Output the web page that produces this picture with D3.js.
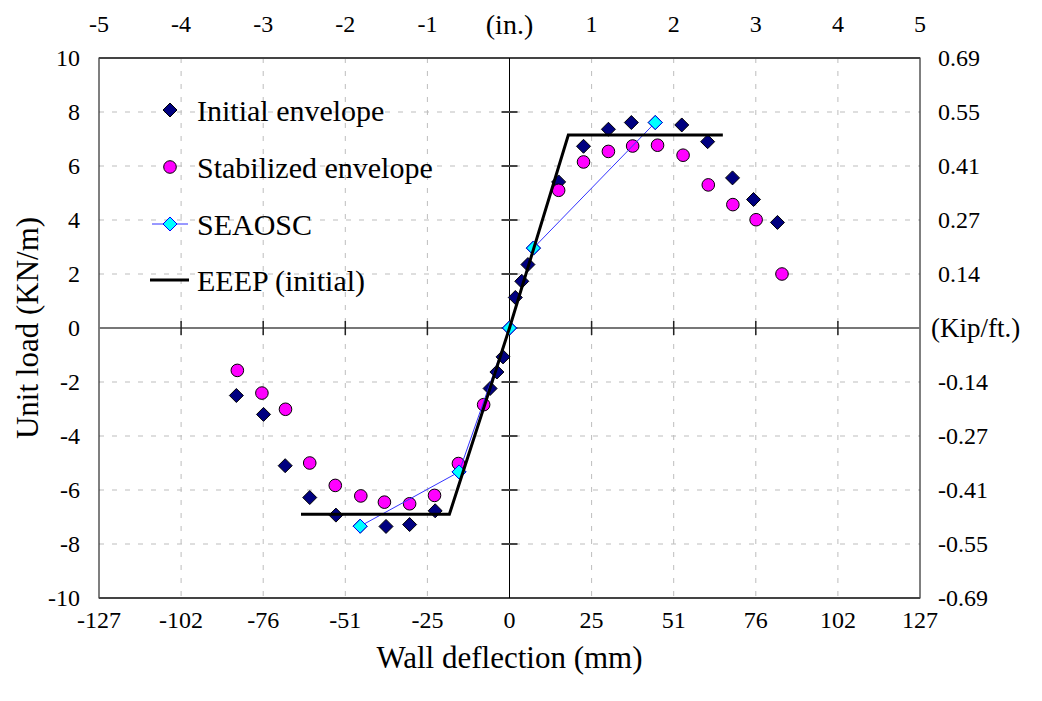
<!DOCTYPE html>
<html>
<head>
<meta charset="utf-8">
<script src="https://cdnjs.cloudflare.com/ajax/libs/d3/7.8.5/d3.min.js"></script>
<style>
  body { margin: 0; background: #fff; }
  text { font-family: "Liberation Serif", "Times New Roman", Times, "DejaVu Serif", serif; }
</style>
</head>
<body>
<svg id="chart" width="1042" height="701"></svg>
<script>
// values (mm, kN/m)
const initialX = [-84.5, -76.1, -69.4, -61.8, -53.7, -46.2, -38.2, -30.9, -23.0, -15.6, -6.0, -3.9, -2.0, 0, 1.8, 3.8, 5.7, 7.4, 15.2, 22.9, 30.6, 37.7, 45.1, 53.3, 61.3, 69.0, 75.5, 82.9];
const initialY = [-2.50, -3.20, -5.10, -6.28, -6.93, -7.34, -7.35, -7.28, -6.77, -5.33, -2.24, -1.63, -1.07, 0, 1.13, 1.73, 2.35, 2.96, 5.41, 6.73, 7.36, 7.61, 7.61, 7.52, 6.90, 5.56, 4.76, 3.91];

const stabX = [-84.2, -76.6, -69.3, -61.8, -53.9, -46.0, -38.7, -30.9, -23.2, -15.8, -8.0, 15.2, 22.9, 30.6, 38.1, 45.8, 53.7, 61.5, 69.1, 76.3, 84.3];
const stabY = [-1.57, -2.41, -3.01, -5.00, -5.83, -6.22, -6.45, -6.51, -6.20, -5.02, -2.84, 5.10, 6.15, 6.54, 6.74, 6.77, 6.40, 5.30, 4.57, 4.01, 2.00];

const seaoscX = [-46.2, -15.6, 0, 7.4, 45.1];
const seaoscY = [-7.34, -5.33, 0, 2.96, 7.61];

const eeepX = [-64.5, -18.6, 0, 18.2, 66.0];
const eeepY = [-6.90, -6.90, 0, 7.15, 7.15];

// axes
const mmTicks = [-127, -101.6, -76.2, -50.8, -25.4, 0, 25.4, 50.8, 76.2, 101.6, 127];
const mmLabels = ["-127", "-102", "-76", "-51", "-25", "0", "25", "51", "76", "102", "127"];
const inLabels = ["-5", "-4", "-3", "-2", "-1", "(in.)", "1", "2", "3", "4", "5"];
const loadTicks = [-10, -8, -6, -4, -2, 0, 2, 4, 6, 8, 10];
const kipLabels = ["-0.69", "-0.55", "-0.41", "-0.27", "-0.14", "(Kip/ft.)", "0.14", "0.27", "0.41", "0.55", "0.69"];

const legendNames = ["Initial envelope", "Stabilized envelope", "SEAOSC", "EEEP (initial)"];

const svg = d3.select("#chart");
const plotLeft = 99, plotRight = 920, plotTop = 58, plotBottom = 598;

const x = d3.scaleLinear().domain([-127, 127]).range([plotLeft, plotRight]);
const y = d3.scaleLinear().domain([-10, 10]).range([plotBottom, plotTop]);

const zip = (xs, ys) => xs.map((v, i) => [v, ys[i]]);

function diamond(cx, cy, r) {
  return `M${cx},${cy - r}L${cx + r},${cy}L${cx},${cy + r}L${cx - r},${cy}Z`;
}

// grid
const grid = svg.append("g");
grid.selectAll("line.vg")
  .data(mmTicks.filter(d => d !== 0 && Math.abs(d) !== 127))
  .enter().append("line")
  .attr("x1", d => x(d)).attr("x2", d => x(d))
  .attr("y1", plotTop).attr("y2", plotBottom)
  .style("stroke", "#bdbdbd").style("stroke-dasharray", "5,8");
grid.selectAll("line.hg")
  .data(loadTicks.filter(d => d !== 0 && Math.abs(d) !== 10))
  .enter().append("line")
  .attr("x1", plotLeft).attr("x2", plotRight)
  .attr("y1", d => y(d)).attr("y2", d => y(d))
  .style("stroke", "#bdbdbd").style("stroke-dasharray", "5,8");

// frame
svg.append("rect")
  .attr("x", plotLeft).attr("y", plotTop)
  .attr("width", plotRight - plotLeft).attr("height", plotBottom - plotTop)
  .style("fill", "none").style("stroke", "#000").style("stroke-width", 1);
[plotTop, plotBottom].forEach(v => {
  svg.append("line").attr("x1", plotLeft).attr("x2", plotRight)
    .attr("y1", v).attr("y2", v)
    .style("stroke", "#444").style("stroke-width", 2);
});

// zero axes
svg.append("line")
  .attr("x1", plotLeft).attr("x2", plotRight).attr("y1", y(0)).attr("y2", y(0))
  .style("stroke", "#777").style("stroke-width", 2);
svg.append("line")
  .attr("x1", x(0)).attr("x2", x(0)).attr("y1", plotTop).attr("y2", plotBottom)
  .style("stroke", "#000").style("stroke-width", 1);

svg.append("g").selectAll("line")
  .data(mmTicks.filter(d => Math.abs(d) !== 127))
  .enter().append("line")
  .attr("x1", d => x(d)).attr("x2", d => x(d))
  .attr("y1", y(0) - 7).attr("y2", y(0) + 7)
  .style("stroke", "#222").style("stroke-width", 1.5);
svg.append("g").selectAll("line")
  .data(loadTicks.filter(d => Math.abs(d) !== 10))
  .enter().append("line")
  .attr("x1", x(0) - 8).attr("x2", x(0) + 8)
  .attr("y1", d => y(d)).attr("y2", d => y(d))
  .style("stroke", "#444").style("stroke-width", 2);

// tick labels
svg.append("g").selectAll("text")
  .data(mmTicks)
  .enter().append("text")
  .attr("x", d => x(d)).attr("y", 620)
  .attr("text-anchor", "middle").attr("dominant-baseline", "central")
  .style("font-size", "24px")
  .text((d, i) => mmLabels[i]);

svg.append("g").selectAll("text")
  .data(mmTicks)
  .enter().append("text")
  .attr("x", d => x(d)).attr("y", 24)
  .attr("text-anchor", "middle").attr("dominant-baseline", "central")
  .style("font-size", (d, i) => i === 5 ? "28px" : "24px")
  .text((d, i) => inLabels[i]);

svg.append("g").selectAll("text")
  .data(loadTicks)
  .enter().append("text")
  .attr("x", 80).attr("y", d => y(d))
  .attr("text-anchor", "end").attr("dominant-baseline", "central")
  .style("font-size", "24px")
  .text(d => d);

svg.append("g").selectAll("text")
  .data(loadTicks)
  .enter().append("text")
  .attr("x", d => d === 0 ? 931 : 938).attr("y", d => y(d))
  .attr("dominant-baseline", "central")
  .style("font-size", d => d === 0 ? "27px" : "24px")
  .text((d, i) => kipLabels[i]);

// axis titles
svg.append("text")
  .attr("x", x(0)).attr("y", 657)
  .attr("text-anchor", "middle").attr("dominant-baseline", "central")
  .style("font-size", "31px")
  .text("Wall deflection (mm)");
svg.append("text")
  .attr("transform", `translate(27,${y(0)}) rotate(-90)`)
  .attr("text-anchor", "middle").attr("dominant-baseline", "central")
  .style("font-size", "31px")
  .text("Unit load (KN/m)");

// series
const plot = svg.append("g");

plot.selectAll("path.init")
  .data(zip(initialX, initialY))
  .enter().append("path")
  .attr("d", d => diamond(x(d[0]), y(d[1]), 7))
  .style("fill", "#000080").style("stroke", "#000").style("stroke-width", 1);

plot.selectAll("circle.stab")
  .data(zip(stabX, stabY))
  .enter().append("circle")
  .attr("cx", d => x(d[0])).attr("cy", d => y(d[1])).attr("r", 6.3)
  .style("fill", "#ff00ff").style("stroke", "#000").style("stroke-width", 1);

const line = d3.line().x(d => x(d[0])).y(d => y(d[1]));

plot.append("path")
  .attr("d", line(zip(seaoscX, seaoscY)))
  .style("fill", "none").style("stroke", "#3333ff").style("stroke-width", 1);
plot.selectAll("path.sea")
  .data(zip(seaoscX, seaoscY))
  .enter().append("path")
  .attr("d", d => diamond(x(d[0]), y(d[1]), 7))
  .style("fill", "#00ffff").style("stroke", "#0000ff").style("stroke-width", 1);

plot.append("path")
  .attr("d", line(zip(eeepX, eeepY)))
  .style("fill", "none").style("stroke", "#000").style("stroke-width", 3);

// legend
const legend = svg.append("g");
const rowY = [110, 167, 224, 280];
legend.append("path").attr("d", diamond(170, rowY[0], 7))
  .style("fill", "#000080").style("stroke", "#000");
legend.append("circle").attr("cx", 170).attr("cy", rowY[1]).attr("r", 6.3)
  .style("fill", "#ff00ff").style("stroke", "#000");
legend.append("line").attr("x1", 152).attr("x2", 188).attr("y1", rowY[2]).attr("y2", rowY[2])
  .style("stroke", "#3333ff").style("stroke-width", 1);
legend.append("path").attr("d", diamond(170, rowY[2], 7))
  .style("fill", "#00ffff").style("stroke", "#0000ff");
legend.append("line").attr("x1", 150).attr("x2", 189).attr("y1", rowY[3]).attr("y2", rowY[3])
  .style("stroke", "#000").style("stroke-width", 3);

legend.selectAll("text")
  .data(legendNames)
  .enter().append("text")
  .attr("x", 197).attr("y", (d, i) => rowY[i])
  .attr("dominant-baseline", "central")
  .style("font-size", "30px")
  .text(d => d);
</script>
</body>
</html>
